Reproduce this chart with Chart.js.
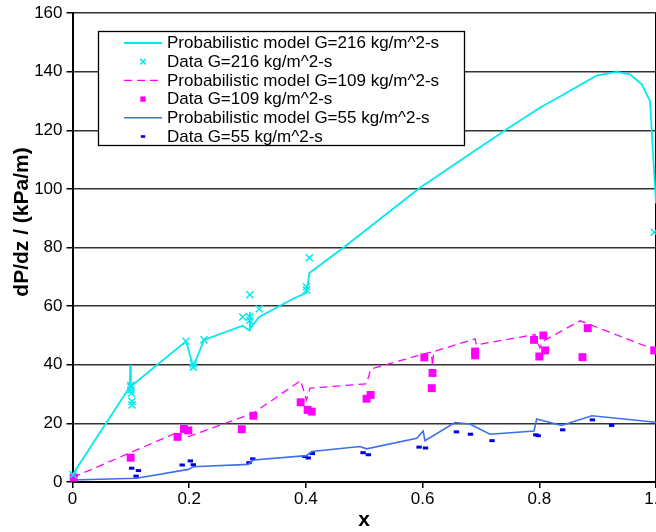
<!DOCTYPE html>
<html>
<head>
<meta charset="utf-8">
<script src="https://cdn.jsdelivr.net/npm/chart.js@4.4.0/dist/chart.umd.min.js"></script>
<style>
  html, body { margin: 0; padding: 0; background: #fff; }
  #wrap { width: 656px; height: 532px; }
</style>
</head>
<body>
<div id="wrap"><canvas id="chart"></canvas></div>
<script>
// Probabilistic model, G=216
const model216X = [0, 0.0985, 0.099, 0.1, 0.1945, 0.207, 0.2254, 0.2917, 0.303, 0.304, 0.305, 0.32, 0.378, 0.401, 0.406, 0.464, 0.5955, 0.744, 0.801, 0.8355, 0.898, 0.9327, 0.9554, 0.9755, 0.9897, 1.0];
const model216Y = [2.5, 32.6, 40, 32.6, 48.0, 39.4, 48.5, 53.3, 51.7, 58.0, 52.5, 56.3, 62.5, 64.5, 71.3, 79.9, 100.4, 120.3, 127.7, 131.5, 138.6, 139.9, 139.1, 135.7, 130.0, 95];
// Data, G=216
const data216X = [0.001, 0.1, 0.1, 0.1, 0.101, 0.102, 0.102, 0.1945, 0.207, 0.207, 0.2254, 0.2917, 0.304, 0.304, 0.304, 0.32, 0.401, 0.401, 0.406, 0.997];
const data216Y = [2.5, 33, 32.4, 31.4, 30.3, 27.5, 26.3, 48.0, 40.3, 39.2, 48.5, 56.3, 63.9, 56.3, 55.2, 59.1, 66.6, 65.5, 76.5, 85.2];

// Probabilistic model, G=109
const model109X = [0, 0.19, 0.196, 0.31, 0.391, 0.401, 0.407, 0.504, 0.511, 0.607, 0.615, 0.617, 0.619, 0.69, 0.692, 0.7925, 0.801, 0.806, 0.87, 1.0];
const model109Y = [1.5, 17.8, 15.3, 23.5, 34.6, 28, 32, 33.5, 38.5, 44.0, 44.3, 39.5, 44.5, 48.8, 46.8, 50.3, 45.7, 48.0, 55.0, 45.0];
// Data, G=109
const data109X = [0.002, 0.0997, 0.18, 0.191, 0.1985, 0.29, 0.31, 0.391, 0.403, 0.41, 0.504, 0.511, 0.603, 0.617, 0.6156, 0.69, 0.69, 0.791, 0.807, 0.80, 0.81, 0.874, 0.883, 0.997];
const data109Y = [1.5, 8.3, 15.4, 18.1, 17.6, 18.0, 22.6, 27.2, 24.6, 24.0, 28.4, 29.7, 42.5, 37.2, 32.0, 44.5, 43.2, 48.5, 50.0, 42.8, 44.9, 42.6, 52.5, 44.9];

// Probabilistic model, G=55
const model55X = [0, 0.11, 0.1985, 0.207, 0.301, 0.31, 0.401, 0.41, 0.4927, 0.504, 0.59, 0.601, 0.604, 0.6555, 0.681, 0.7155, 0.791, 0.7955, 0.838, 0.89, 1.0];
const model55Y = [0.7, 1.3, 4.3, 5.2, 6.0, 7.5, 9.0, 10.4, 12.1, 11.3, 14.9, 17.4, 14.1, 20.3, 19.8, 16.3, 17.4, 21.5, 19.3, 22.6, 20.4];
// Data, G=55
const data55X = [0.003, 0.1014, 0.113, 0.109, 0.188, 0.202, 0.207, 0.3025, 0.309, 0.398, 0.404, 0.411, 0.498, 0.507, 0.594, 0.605, 0.658, 0.682, 0.719, 0.794, 0.798, 0.840, 0.891, 0.924];
const data55Y = [1.0, 4.7, 3.9, 2.0, 5.8, 7.2, 5.9, 6.6, 7.9, 8.7, 8.2, 9.7, 10.0, 9.3, 11.9, 11.6, 17.1, 16.3, 14.1, 16.1, 15.8, 17.8, 21.2, 19.3];

const seriesLabels = [
    'Probabilistic model G=216 kg/m^2-s',
    'Data G=216 kg/m^2-s',
    'Probabilistic model G=109 kg/m^2-s',
    'Data G=109 kg/m^2-s',
    'Probabilistic model G=55 kg/m^2-s',
    'Data G=55 kg/m^2-s'
];

const yTitle = 'dP/dz / (kPa/m)';
const xTitle = 'x';

const FONT = '"Liberation Sans", Arial, Helvetica, sans-serif';
const CYAN = '#00eaf0';
const MAGENTA = '#ff00ff';
const BLUE_LINE = '#3d6ff0';
const BLUE_DOT = '#0000e6';

function pts(xs, ys) {
    return xs.map((x, i) => ({ x: x, y: ys[i] }));
}

Chart.defaults.font.family = FONT;
Chart.defaults.color = '#000';

// Legend box drawn inside the plot area, like the original
const legendBox = {
    id: 'legendBox',
    afterDatasetsDraw(chart) {
        const ctx = chart.ctx;
        ctx.save();
        ctx.fillStyle = '#fff';
        ctx.fillRect(98.5, 31.5, 366, 114);
        ctx.strokeStyle = '#000';
        ctx.lineWidth = 1.3;
        ctx.strokeRect(98.5, 31.5, 366, 114);

        chart.data.datasets.forEach((ds, i) => {
            const y = 43 + i * 18.7;
            ctx.save();
            if (ds.showLine) {
                ctx.strokeStyle = ds.borderColor;
                ctx.lineWidth = ds.borderWidth;
                ctx.setLineDash(ds.borderDash || []);
                ctx.beginPath();
                ctx.moveTo(124, y);
                ctx.lineTo(162, y);
                ctx.stroke();
            } else {
                ctx.strokeStyle = ds.borderColor;
                ctx.fillStyle = ds.backgroundColor;
                ctx.lineWidth = ds.legendBorder;
                Chart.helpers.drawPoint(ctx, {
                    pointStyle: ds.pointStyle,
                    rotation: 0,
                    radius: ds.legendRadius,
                    borderWidth: ds.legendBorder
                }, 143, y);
            }
            ctx.restore();
            ctx.fillStyle = '#000';
            ctx.font = '17px ' + FONT;
            ctx.textAlign = 'left';
            ctx.textBaseline = 'middle';
            ctx.fillText(ds.label, 167, y + 0.5);
        });
        ctx.restore();
    }
};

// Axis titles (the y title sits above the middle of the axis)
const axisTitles = {
    id: 'axisTitles',
    afterDraw(chart) {
        const ctx = chart.ctx;
        ctx.save();
        ctx.fillStyle = '#000';
        ctx.font = 'bold 21px ' + FONT;
        ctx.textAlign = 'center';
        ctx.textBaseline = 'middle';
        ctx.fillText(xTitle, 364, 520);
        ctx.translate(22, 222);
        ctx.rotate(-Math.PI / 2);
        ctx.fillText(yTitle, 0, 0);
        ctx.restore();
    }
};

const ctx = document.getElementById('chart');
new Chart(ctx, {
    type: 'scatter',
    data: {
        datasets: [{
            label: seriesLabels[0],
            data: pts(model216X, model216Y),
            showLine: true,
            borderColor: CYAN,
            borderWidth: 1.8,
            pointRadius: 0,
            clip: false
        }, {
            label: seriesLabels[1],
            data: pts(data216X, data216Y),
            pointStyle: 'crossRot',
            pointRadius: 5,
            borderWidth: 1.5,
            borderColor: CYAN,
            backgroundColor: CYAN,
            legendRadius: 4,
            legendBorder: 1.5,
            clip: false
        }, {
            label: seriesLabels[2],
            data: pts(model109X, model109Y),
            showLine: true,
            borderColor: MAGENTA,
            borderWidth: 1.3,
            borderDash: [8, 5],
            pointRadius: 0,
            clip: false
        }, {
            label: seriesLabels[3],
            data: pts(data109X, data109Y),
            pointStyle: 'rect',
            pointRadius: 5.6,
            borderWidth: 0,
            borderColor: MAGENTA,
            backgroundColor: MAGENTA,
            legendRadius: 3.8,
            legendBorder: 0,
            clip: false
        }, {
            label: seriesLabels[4],
            data: pts(model55X, model55Y),
            showLine: true,
            borderColor: BLUE_LINE,
            borderWidth: 1.6,
            pointRadius: 0,
            clip: false
        }, {
            label: seriesLabels[5],
            data: pts(data55X, data55Y),
            pointStyle: 'line',
            pointRadius: 2.7,
            borderWidth: 3,
            borderColor: BLUE_DOT,
            backgroundColor: BLUE_DOT,
            legendRadius: 2.2,
            legendBorder: 2.6,
            clip: false
        }]
    },
    options: {
        responsive: true,
        maintainAspectRatio: false,
        devicePixelRatio: 1,
        animation: false,
        events: [],
        layout: {
            autoPadding: false,
            padding: { top: 13, left: 0, right: 0, bottom: 0 }
        },
        plugins: {
            legend: { display: false },
            tooltip: { enabled: false }
        },
        scales: {
            x: {
                type: 'linear',
                min: 0,
                max: 1,
                ticks: {
                    stepSize: 0.2,
                    font: { size: 17 },
                    color: '#000',
                    padding: 1
                },
                grid: {
                    color: (c) => (c.tick && c.tick.value === 1) ? '#000' : 'rgba(0,0,0,0)',
                    lineWidth: 1.5,
                    tickColor: '#000',
                    tickLength: 6
                },
                border: { color: '#000', width: 2 },
                afterFit: (s) => {
                    s.height = 50;
                    s.paddingLeft = 0;
                    s.paddingRight = 0;
                }
            },
            y: {
                min: 0,
                max: 160,
                ticks: {
                    stepSize: 20,
                    font: { size: 17 },
                    color: '#000',
                    padding: 4
                },
                grid: {
                    color: '#333',
                    lineWidth: 1.5,
                    tickColor: '#000',
                    tickLength: 6
                },
                border: { color: '#000', width: 2 },
                afterFit: (s) => {
                    s.width = 72.5;
                    s.paddingTop = 0;
                    s.paddingBottom = 0;
                }
            }
        }
    },
    plugins: [legendBox, axisTitles]
});
</script>
</body>
</html>
